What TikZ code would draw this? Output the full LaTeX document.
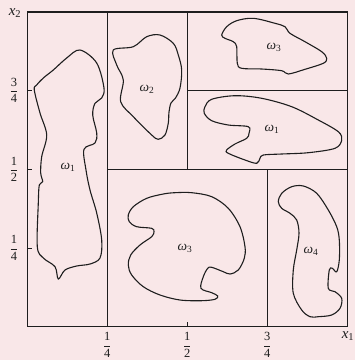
\documentclass[tikz,border=0pt]{standalone}
\definecolor{paperPink}{RGB}{249,231,232}
\definecolor{inkGray}{HTML}{1E1E1E}
\usepackage{tikz}
\usepackage{amsmath}
\usepackage{xcolor}
\usepackage{fontspec}
\setmainfont{Liberation Serif}

\begin{document}
\begin{tikzpicture}[x=1pt, y=-1pt,
  frame/.style={draw=inkGray, line width=1.3pt},
  tickmark/.style={draw=inkGray, line width=1pt},
  blob/.style={draw=inkGray, line width=1.1pt},
  setlabel/.style={font=\fontsize{13.5}{15}\selectfont, text=inkGray, inner sep=0pt},
  axlabel/.style={font=\fontsize{15}{17}\selectfont, text=inkGray, inner sep=0pt},
  fraclabel/.style={font=\fontsize{12.5}{14}\selectfont, text=inkGray, inner sep=0pt}]

  \fill[paperPink] (0,0) rectangle (355,360);
  \useasboundingbox (0,0) rectangle (355,360);

  % Unit square and its partition
  \coordinate (sw) at (27.3,326.7);
  \coordinate (ne) at (347.3,12);
  \draw[frame] (sw) rectangle (ne);
  \draw[frame] (107.3,12) -- (107.3,326.7);
  \draw[frame] (107.3,169.3) -- (347.3,169.3);
  \draw[frame] (187.3,12) -- (187.3,169.3);
  \draw[frame] (187.3,90.6) -- (347.3,90.6);
  \draw[frame] (267.3,169.3) -- (267.3,326.7);

  \draw[tickmark] (27.3,90.6) -- (32,90.6);
  \draw[tickmark] (27.3,169.3) -- (32,169.3);
  \draw[tickmark] (27.3,248) -- (32,248);
  \draw[tickmark] (187.3,326.7) -- (187.3,322);

  % Axis labels
  \node[axlabel] (xtwo) at (15,13) {$\textit{x}_{\text{2}}$};
  \node[axlabel] (xone) at (348,336) {$\textit{x}_{\text{1}}$};
  \node[fraclabel] (ythree) at (14,90.6) {$\dfrac{\text{3}}{\text{4}}$};
  \node[fraclabel] (yhalf) at (14,169.3) {$\dfrac{\text{1}}{\text{2}}$};
  \node[fraclabel] (yquarter) at (14,248) {$\dfrac{\text{1}}{\text{4}}$};
  \node[fraclabel] (xquarter) at (107.3,345) {$\dfrac{\text{1}}{\text{4}}$};
  \node[fraclabel] (xhalf) at (187.3,345) {$\dfrac{\text{1}}{\text{2}}$};
  \node[fraclabel] (xthree) at (267.3,345) {$\dfrac{\text{3}}{\text{4}}$};

  % Sets
  \draw[blob] plot[smooth cycle, tension=0.55] coordinates {
    (80,50) (96.7,63) (104,88) (101.7,98) (95,103.3) (92.7,115) (96.7,133)
    (95,143) (84,149.3) (86,170) (90,190) (96.7,213) (101.7,240) (100,258)
    (90,264) (76.7,266) (65,270) (58.3,279) (55,266.7) (43.3,258) (37.3,246.7)
    (38.3,203) (39.3,185) (42.7,181.7) (40.7,173) (41.7,156.7) (46.7,135)
    (40,113) (34.3,90) (36.7,85) (43.3,78) (53.3,70) (66.7,58)};
  \draw[blob] plot[smooth cycle, tension=0.55] coordinates {
    (113.3,50) (133.3,46.7) (146.7,36.7) (160,35) (173.3,43.3) (178.3,55)
    (181.7,70) (180,88) (175.5,98) (171,103) (169,112) (168.3,123) (165,135)
    (158.3,139.3) (151.7,135) (133.3,116.7) (120.7,101.7) (123.3,80) (116.7,65)};
  \draw[blob] plot[smooth cycle, tension=0.55] coordinates {
    (221.7,35) (226.7,26.7) (236.7,20.7) (253.3,18.3) (275,23.3) (285,26.7)
    (290,33.3) (305,41.7) (321.7,51.7) (326.7,58.3) (323.3,63.3) (305,69.3)
    (288.3,74) (281.7,70.7) (261.7,69) (241.7,68.3) (237.3,63.3) (236.7,46.7)
    (233.3,41.7) (225,38.3)};
  \draw[blob] plot[smooth cycle, tension=0.55] coordinates {
    (205,106.7) (211.7,99.3) (235,95.7) (261.7,98.3) (291.7,106.7) (318.3,120)
    (338.3,131.7) (341.7,140) (335,148.3) (308.3,152.7) (281.7,154) (263.3,155)
    (260,158.3) (256.7,163.3) (245,160) (228.3,153.3) (226.7,150) (235,144)
    (246.7,138.3) (249,133.3) (248.3,126.7) (228.3,125) (211.7,120.7) (204.3,113.3)};
  \draw[blob] plot[smooth cycle, tension=0.55] coordinates {
    (175,192.7) (191.7,192.7) (211.7,196.7) (228.3,208.3) (240,226.7) (245,246.7)
    (244.3,258.3) (238.3,270) (230,274) (223.3,271.7) (211.7,267.3) (207.7,268.3)
    (203.3,276.7) (201,288.3) (211.7,292.7) (217.7,296) (215,299.3) (201.7,300.7)
    (180,300) (160,295) (143.3,286.7) (131.7,275) (128.3,265) (130.7,255)
    (140,245) (151.7,236.7) (154,231.7) (151.7,228.3) (136.7,226.7) (129.3,221.7)
    (128.3,215) (133.3,206.7) (146.7,198.3) (163.3,194)};
  \draw[blob] plot[smooth cycle, tension=0.55] coordinates {
    (278.3,201.7) (281.7,193.3) (291.7,186.7) (303.3,186) (316.7,193.3) (328.3,210)
    (336.7,226.7) (339.3,240) (339.3,260) (336.7,271.7) (332.3,268.3) (329.3,270)
    (328.3,288.3) (335,291.7) (341.7,298.3) (340,308.3) (331.7,315) (318.3,316.7)
    (310,316.7) (301.7,310) (293.3,293.3) (293.3,270) (296.7,250) (299,233.3)
    (296.7,220) (290,213.3) (281.7,208.3)};

  \node[setlabel] (wonel) at (68,167) {$\textit{ω}_{\text{1}}$};
  \node[setlabel] (wtwo) at (147,89) {$\textit{ω}_{\text{2}}$};
  \node[setlabel] (wthreet) at (274,47) {$\textit{ω}_{\text{3}}$};
  \node[setlabel] (woner) at (272,129) {$\textit{ω}_{\text{1}}$};
  \node[setlabel] (wthreeb) at (185,248) {$\textit{ω}_{\text{3}}$};
  \node[setlabel] (wfour) at (311,251) {$\textit{ω}_{\text{4}}$};
\end{tikzpicture}
\end{document}
